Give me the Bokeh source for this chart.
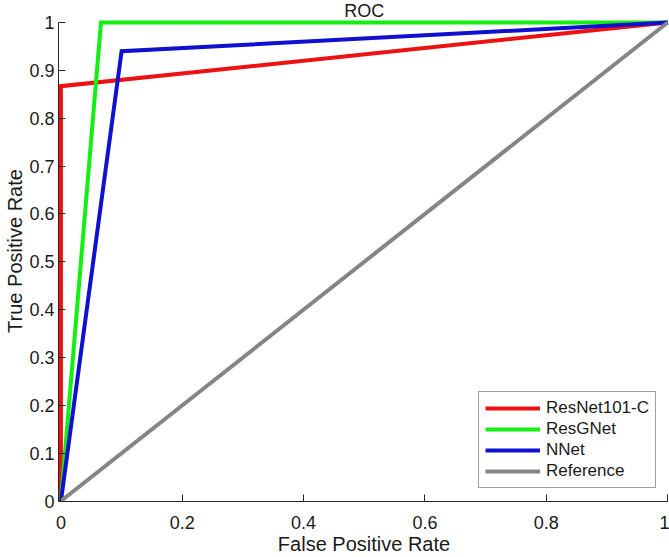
from bokeh.plotting import figure
from bokeh.models import Range1d, FixedTicker, Label, Legend, LegendItem
from bokeh.embed import file_html
from bokeh.resources import INLINE

# ---- data ----
fpr_resnet = [0, 0, 1]
tpr_resnet = [0, 0.867, 1]
fpr_resgnet = [0, 0.066, 1]
tpr_resgnet = [0, 1, 1]
fpr_nnet = [0, 0.1, 1]
tpr_nnet = [0, 0.94, 1]
fpr_ref = [0, 1]
tpr_ref = [0, 1]

x_ticks = [0, 0.2, 0.4, 0.6, 0.8, 1]
x_tick_labels = ["0", "0.2", "0.4", "0.6", "0.8", "1"]
y_ticks = [0, 0.1, 0.2, 0.3, 0.4, 0.5, 0.6, 0.7, 0.8, 0.9, 1]
y_tick_labels = ["0", "0.1", "0.2", "0.3", "0.4", "0.5", "0.6", "0.7", "0.8", "0.9", "1"]

series_names = ["ResNet101-C", "ResGNet", "NNet", "Reference"]
series_colors = ["#EE1111", "#11F011", "#1010D0", "#858585"]

FONT = "Liberation Sans"
AX = "#262626"

p = figure(width=669, height=557, output_backend="svg", toolbar_location=None,
           x_range=Range1d(-0.004, 1.003), y_range=Range1d(-0.001, 1.046),
           min_border_left=58, min_border_right=0, min_border_top=0, min_border_bottom=40)
p.outline_line_color = None
p.xgrid.visible = False
p.ygrid.visible = False
p.background_fill_color = "white"

lines = []
data = [(fpr_resnet, tpr_resnet), (fpr_resgnet, tpr_resgnet), (fpr_nnet, tpr_nnet), (fpr_ref, tpr_ref)]
for (xs, ys), c in zip(data, series_colors):
    r = p.line(xs, ys, line_color=c, line_width=4, line_join="miter")
    lines.append(r)

for ax in (p.xaxis[0], p.yaxis[0]):
    ax.bounds = (0, 1)
    ax.axis_line_color = AX
    ax.major_tick_line_color = AX
    ax.minor_tick_line_color = None
    ax.major_tick_in = 7
    ax.major_tick_out = 0
    ax.major_label_text_font = FONT
    ax.major_label_text_font_size = "18px"
    ax.major_label_text_color = "#1a1a1a"
    ax.axis_label_text_font = FONT
    ax.axis_label_text_font_size = "20px"
    ax.axis_label_text_font_style = "normal"
    ax.axis_label_text_color = "#1a1a1a"

p.xaxis.ticker = FixedTicker(ticks=x_ticks)
p.xaxis.major_label_overrides = dict(zip(x_ticks, x_tick_labels))
p.yaxis.ticker = FixedTicker(ticks=y_ticks)
p.yaxis.major_label_overrides = dict(zip(y_ticks, y_tick_labels))
p.xaxis.axis_label = "False Positive Rate"
p.yaxis.axis_label = "True Positive Rate"
p.xaxis.major_label_standoff = 14
p.xaxis.axis_label_standoff = 1
p.yaxis.major_label_standoff = 4
p.yaxis.axis_label_standoff = 0

title = Label(x=0.5, y=1, y_offset=12, text="ROC", text_align="center", text_baseline="middle",
              text_font=FONT, text_font_size="18px", text_color="#1a1a1a")
p.add_layout(title)

legend = Legend(items=[LegendItem(label=n, renderers=[r]) for n, r in zip(series_names, lines)],
                location=(420, 13), border_line_color="#404040", border_line_width=1,
                background_fill_alpha=1, label_text_font=FONT, label_text_font_size="17px",
                label_text_color="#1a1a1a", glyph_width=55, glyph_height=20, label_height=20,
                spacing=1, padding=6, margin=0, label_standoff=6)
p.add_layout(legend)

open("out.html", "w").write(file_html(p, INLINE))
